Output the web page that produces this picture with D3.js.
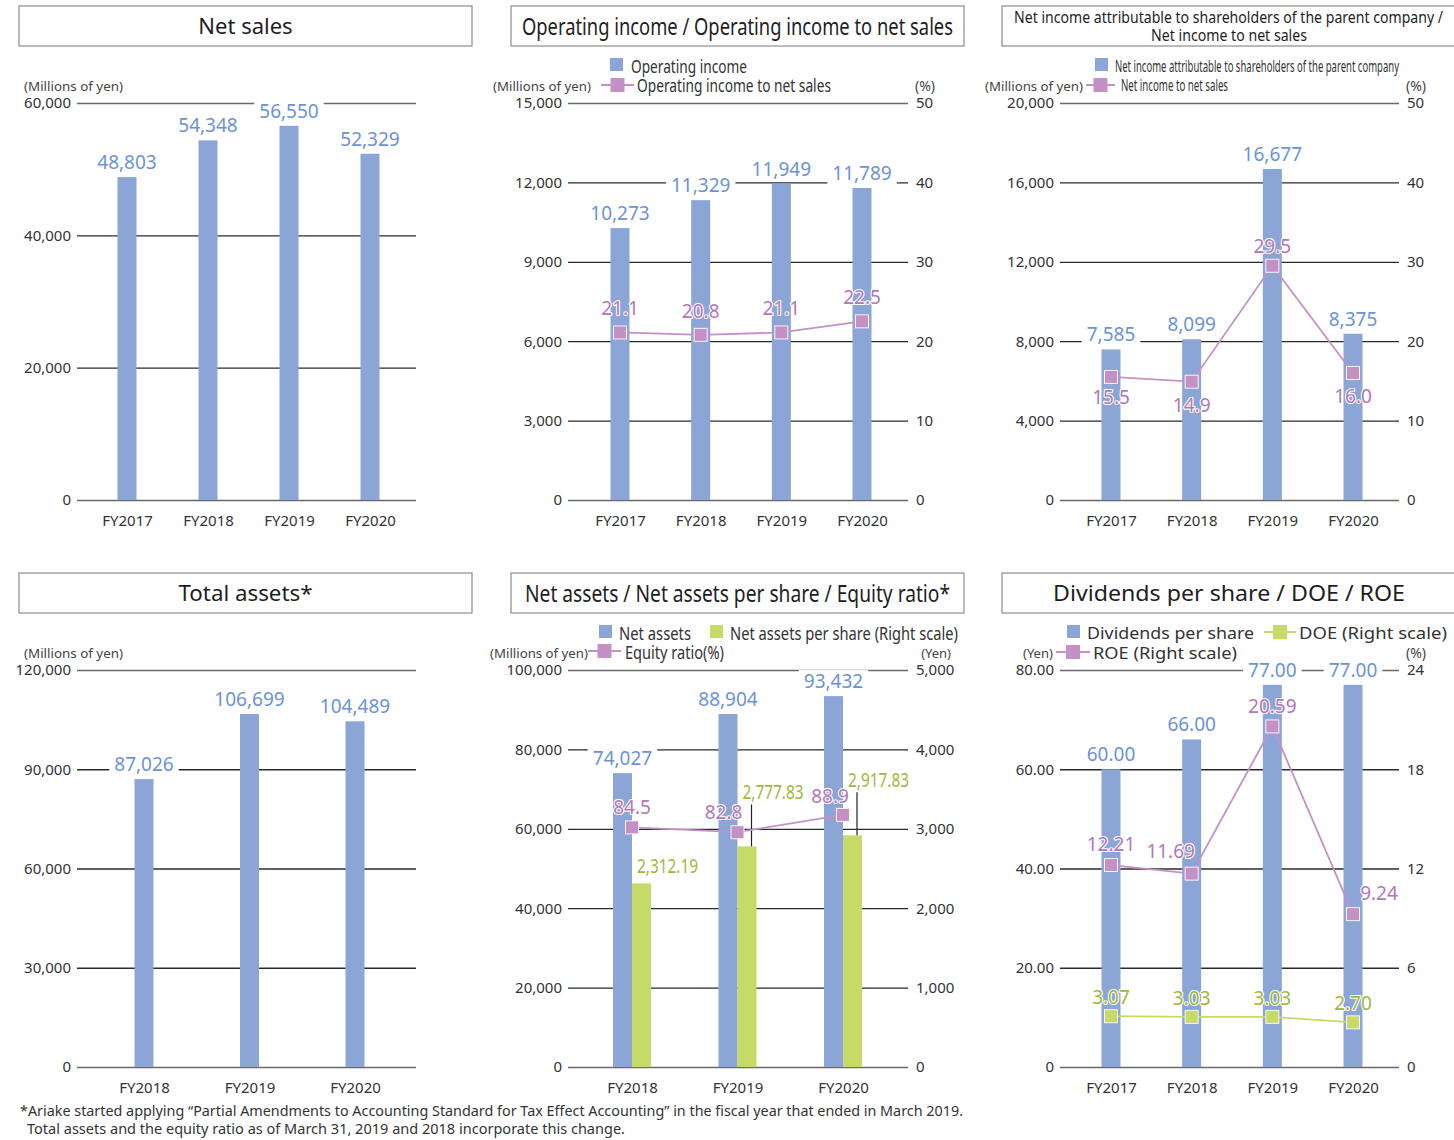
<!DOCTYPE html>
<html lang="en">
<head>
<meta charset="utf-8">
<title>Financial highlights</title>
<script src="https://d3js.org/d3.v7.min.js"></script>
<style>
  body { margin: 0; background: #fff; }
  svg text { font-family: "Noto Sans", "Open Sans", sans-serif; }
</style>
</head>
<body>
<script>
// ---- data ----
var years4 = ["FY2017", "FY2018", "FY2019", "FY2020"];
var years3 = ["FY2018", "FY2019", "FY2020"];

var netSales = [48803, 54348, 56550, 52329];

var opIncome = [10273, 11329, 11949, 11789];
var opMargin = [21.1, 20.8, 21.1, 22.5];

var netIncome = [7585, 8099, 16677, 8375];
var netMargin = [15.5, 14.9, 29.5, 16.0];

var totalAssets = [87026, 106699, 104489];

var netAssets = [74027, 88904, 93432];
var netAssetsPerShare = [2312.19, 2777.83, 2917.83];
var equityRatio = [84.5, 82.8, 88.9];

var dividends = [60, 66, 77, 77];
var doe = [3.07, 3.03, 3.03, 2.70];
var roe = [12.21, 11.69, 20.59, 9.24];

var footnote = [
  "*Ariake started applying \u201CPartial Amendments to Accounting Standard for Tax Effect Accounting\u201D in the fiscal year that ended in March 2019.",
  "Total assets and the equity ratio as of March 31, 2019 and 2018 incorporate this change."
];

// ---- look ----
var C = {
  bar: "#8aa5d6", blueText: "#6d93d4",
  pink: "#c491c6", pinkText: "#b377b7",
  green: "#c6da68", greenText: "#9cb93a",
  text: "#333"
};
var FONT = '"Noto Sans", "Open Sans", sans-serif';
var CFONT = '"Noto Sans CJK JP", "Noto Sans", sans-serif';
var BW = 19;

var svg = d3.select("body").append("svg")
  .attr("width", 1454).attr("height", 1140);

// ---- helpers ----
function titleBox(x, y, w, h, lines) {
  svg.append("rect").attr("x", x).attr("y", y).attr("width", w).attr("height", h)
    .attr("fill", "none").attr("stroke", "#8c8c8c").attr("stroke-width", 1.2);
  lines.forEach(function(l) {
    var t = svg.append("text").attr("x", l.cx).attr("y", l.y)
      .attr("text-anchor", "middle").attr("font-size", l.size)
      .attr("fill", "#1e1e1e").text(l.text);
    if (l.font) t.attr("font-family", l.font);
    if (l.len) t.attr("textLength", l.len).attr("lengthAdjust", "spacingAndGlyphs");
  });
}

function txt(x, y, s, o) {
  o = o || {};
  var t = svg.append("text").attr("x", x).attr("y", y)
    .attr("font-size", o.size || 13).attr("fill", o.color || "#444")
    .attr("text-anchor", o.anchor || "start").text(s);
  if (o.font) t.attr("font-family", o.font);
  if (o.len) t.attr("textLength", o.len).attr("lengthAdjust", "spacingAndGlyphs");
  return t;
}

function swatch(x, y, color) {
  svg.append("rect").attr("x", x).attr("y", y).attr("width", 13).attr("height", 13).attr("fill", color);
}

function lineKey(x1, x2, y, color) {
  svg.append("line").attr("x1", x1).attr("x2", x2).attr("y1", y).attr("y2", y)
    .attr("stroke", color).attr("stroke-width", 2);
  svg.append("rect").attr("x", (x1 + x2) / 2 - 7).attr("y", y - 7)
    .attr("width", 14).attr("height", 14).attr("fill", color);
}

function makePanel(o) {
  var g = svg.append("g");
  var x = d3.scalePoint().domain(o.cats).range(o.catRange);
  var yL = d3.scaleLinear().domain([0, o.leftMax]).range([o.yBot, o.yTop]);
  var ticks = d3.range(0, o.leftMax + 1e-9, o.leftStep);

  var ax = g.append("g").attr("transform", "translate(" + o.x0 + ",0)")
    .call(d3.axisLeft(yL).tickValues(ticks).tickSize(-(o.x1 - o.x0)).tickPadding(6)
      .tickFormat(o.leftFmt || d3.format(",")));
  ax.select(".domain").remove();
  ax.attr("font-family", FONT).attr("font-size", 15);
  ax.selectAll(".tick line")
    .attr("stroke", function(d, i) { return (i === 0 || i === ticks.length - 1) ? "#6a6a6a" : "#2a2a2a"; })
    .attr("stroke-width", 1.3);
  ax.selectAll(".tick text").attr("fill", C.text);

  var yR = null;
  if (o.rightMax) {
    yR = d3.scaleLinear().domain([0, o.rightMax]).range([o.yBot, o.yTop]);
    var ar = g.append("g").attr("transform", "translate(" + o.x1 + ",0)")
      .call(d3.axisRight(yR).tickValues(d3.range(0, o.rightMax + 1e-9, o.rightStep))
        .tickSize(0).tickPadding(8).tickFormat(o.rightFmt || d3.format(",")));
    ar.select(".domain").remove();
    ar.attr("font-family", FONT).attr("font-size", 15);
    ar.selectAll(".tick text").attr("fill", C.text);
  }

  var ab = g.append("g").attr("transform", "translate(0," + o.yBot + ")")
    .call(d3.axisBottom(x).tickSize(0).tickPadding(15));
  ab.select(".domain").remove();
  ab.attr("font-family", FONT).attr("font-size", 15);
  ab.selectAll(".tick text").attr("fill", C.text);

  return { g: g, x: x, yL: yL, yR: yR, o: o };
}

function bars(p, vals, y, shift, color) {
  p.g.append("g").selectAll("rect").data(vals).join("rect")
    .attr("x", function(d, i) { return p.x(p.o.cats[i]) + shift - BW / 2; })
    .attr("y", function(d) { return y(d); })
    .attr("width", BW)
    .attr("height", function(d) { return y(0) - y(d); })
    .attr("fill", color);
}

// value labels above bars, with a white gap behind them so the grid breaks
function barLabels(p, vals, y, shift, fmt) {
  var bg = p.g.append("g");
  var tg = p.g.append("g");
  tg.selectAll("text").data(vals).join("text")
    .attr("x", function(d, i) { return p.x(p.o.cats[i]) + shift; })
    .attr("y", function(d) { return y(d) - 8; })
    .attr("text-anchor", "middle").attr("font-size", 19)
    .attr("fill", C.blueText).text(fmt)
    .each(function() {
      var b = this.getBBox();
      bg.append("rect").attr("x", b.x - 5).attr("y", b.y + 2)
        .attr("width", b.width + 10).attr("height", b.height - 4).attr("fill", "#fff");
    });
}

function series(p, vals, y, color) {
  var line = d3.line()
    .x(function(d, i) { return p.x(p.o.cats[i]); })
    .y(function(d) { return y(d); });
  p.g.append("path").datum(vals).attr("d", line)
    .attr("fill", "none").attr("stroke", color).attr("stroke-width", 1.8);
  p.g.append("g").selectAll("rect").data(vals).join("rect")
    .attr("x", function(d, i) { return p.x(p.o.cats[i]) - 6.5; })
    .attr("y", function(d) { return y(d) - 6.5; })
    .attr("width", 13).attr("height", 13)
    .attr("fill", color).attr("stroke", "#fbf2fb").attr("stroke-width", 1);
}

function pointLabels(p, vals, y, fmt, color, dx, dy, size) {
  p.g.append("g").selectAll("text").data(vals).join("text")
    .attr("x", function(d, i) { return p.x(p.o.cats[i]) + dx[i]; })
    .attr("y", function(d, i) { return y(d) + dy[i]; })
    .attr("text-anchor", "middle").attr("font-size", size || 19)
    .attr("fill", color)
    .attr("stroke", "#fff").attr("stroke-width", 2.2).attr("paint-order", "stroke")
    .attr("stroke-linejoin", "round")
    .text(fmt);
}

var f0 = d3.format(",");
var f1 = d3.format(".1f");
var f2 = d3.format(".2f");
var f2c = d3.format(",.2f");

// ---- Panel 1: Net sales ----
titleBox(19, 6, 453, 40, [{ text: "Net sales", cx: 245.5, y: 34, size: 22 }]);
txt(24, 91, "(Millions of yen)", { len: 99 });
var p1 = makePanel({ cats: years4, catRange: [127, 370], x0: 77, x1: 416, yTop: 103, yBot: 500,
  leftMax: 60000, leftStep: 20000 });
bars(p1, netSales, p1.yL, 0, C.bar);
barLabels(p1, netSales, p1.yL, 0, f0);

// ---- Panel 2: Operating income ----
titleBox(511, 6, 453, 40, [{ text: "Operating income / Operating income to net sales",
  cx: 737.5, y: 35, size: 24, len: 431, font: CFONT }]);
txt(493, 91, "(Millions of yen)", { len: 98 });
swatch(610, 58, C.bar);
txt(631, 73, "Operating income", { size: 18, len: 116, font: CFONT, color: "#333" });
lineKey(601, 634, 85, C.pink);
txt(637, 92, "Operating income to net sales", { size: 18, len: 194, font: CFONT, color: "#333" });
txt(935, 91, "(%)", { anchor: "end", size: 14 });
var p2 = makePanel({ cats: years4, catRange: [620, 862], x0: 568, x1: 908, yTop: 103, yBot: 500,
  leftMax: 15000, leftStep: 3000, rightMax: 50, rightStep: 10 });
bars(p2, opIncome, p2.yL, 0, C.bar);
barLabels(p2, opIncome, p2.yL, 0, f0);
series(p2, opMargin, p2.yR, C.pink);
pointLabels(p2, opMargin, p2.yR, f1, C.pinkText, [0, 0, 0, 0], [-17, -17, -17, -17]);

// ---- Panel 3: Net income ----
titleBox(1002, 6, 460, 40, [
  { text: "Net income attributable to shareholders of the parent company /", cx: 1228.5, y: 23, size: 17, len: 429, font: CFONT },
  { text: "Net income to net sales", cx: 1229, y: 41, size: 17, len: 156, font: CFONT }
]);
txt(985, 91, "(Millions of yen)", { len: 98 });
swatch(1095, 58, C.bar);
txt(1115, 72, "Net income attributable to shareholders of the parent company", { size: 16, len: 284, font: CFONT, color: "#333" });
lineKey(1086, 1115, 85, C.pink);
txt(1121, 91, "Net income to net sales", { size: 16, len: 107, font: CFONT, color: "#333" });
txt(1426, 91, "(%)", { anchor: "end", size: 14 });
var p3 = makePanel({ cats: years4, catRange: [1111, 1353], x0: 1060, x1: 1399, yTop: 103, yBot: 500,
  leftMax: 20000, leftStep: 4000, rightMax: 50, rightStep: 10 });
bars(p3, netIncome, p3.yL, 0, C.bar);
barLabels(p3, netIncome, p3.yL, 0, f0);
series(p3, netMargin, p3.yR, C.pink);
pointLabels(p3, netMargin, p3.yR, f1, C.pinkText, [0, 0, 0, 0], [27, 30, -13, 30]);

// ---- Panel 4: Total assets ----
titleBox(19, 573, 453, 40, [{ text: "Total assets*", cx: 245.5, y: 601, size: 22, len: 134 }]);
txt(24, 658, "(Millions of yen)", { len: 99 });
var p4 = makePanel({ cats: years3, catRange: [144, 355], x0: 77, x1: 416, yTop: 670, yBot: 1067,
  leftMax: 120000, leftStep: 30000 });
bars(p4, totalAssets, p4.yL, 0, C.bar);
barLabels(p4, totalAssets, p4.yL, 0, f0);

// ---- Panel 5: Net assets ----
titleBox(511, 573, 453, 40, [{ text: "Net assets / Net assets per share / Equity ratio*",
  cx: 737.5, y: 602, size: 24, len: 425, font: CFONT }]);
swatch(599, 625, C.bar);
txt(619, 640, "Net assets", { size: 18, len: 72, font: CFONT, color: "#333" });
swatch(710, 625, C.green);
txt(730, 640, "Net assets per share (Right scale)", { size: 18, len: 228, font: CFONT, color: "#333" });
txt(490, 658, "(Millions of yen)", { len: 98 });
lineKey(588, 621, 651, C.pink);
txt(625, 659, "Equity ratio(%)", { size: 18, len: 99, font: CFONT, color: "#333" });
txt(951, 658, "(Yen)", { anchor: "end", size: 13 });
var p5 = makePanel({ cats: years3, catRange: [632, 843], x0: 568, x1: 908, yTop: 670, yBot: 1067,
  leftMax: 100000, leftStep: 20000, rightMax: 5000, rightStep: 1000 });
var yEquity = d3.scaleLinear().domain([0, 140]).range([1067, 670]);
bars(p5, netAssets, p5.yL, -9.5, C.bar);
bars(p5, netAssetsPerShare, p5.yR, 9.5, C.green);
barLabels(p5, netAssets, p5.yL, -9.5, f0);
// per-share labels, two of them lifted with a leader line
var napsDy = [-10, -47, -48];
var lifted = d3.range(netAssetsPerShare.length).filter(function(i) { return napsDy[i] < -20; });
p5.g.append("g").selectAll("line").data(lifted).join("line")
  .attr("x1", function(i) { return p5.x(years3[i]) + 14; })
  .attr("x2", function(i) { return p5.x(years3[i]) + 14; })
  .attr("y1", function(i) { return p5.yR(netAssetsPerShare[i]) + napsDy[i] + 5; })
  .attr("y2", function(i) { return p5.yR(netAssetsPerShare[i]); })
  .attr("stroke", "#222").attr("stroke-width", 1.2);
p5.g.append("g").selectAll("text").data(netAssetsPerShare).join("text")
  .attr("x", function(d, i) { return p5.x(years3[i]) + 5; })
  .attr("y", function(d, i) { return p5.yR(d) + napsDy[i]; })
  .attr("font-size", 19).attr("font-family", CFONT).attr("fill", C.greenText)
  .attr("textLength", 61).attr("lengthAdjust", "spacingAndGlyphs")
  .text(f2c);
series(p5, equityRatio, yEquity, C.pink);
pointLabels(p5, equityRatio, yEquity, f1, C.pinkText, [0, -14, -13], [-13, -13, -12]);

// ---- Panel 6: Dividends ----
titleBox(1002, 573, 460, 40, [{ text: "Dividends per share / DOE / ROE", cx: 1229, y: 601, size: 22, len: 352 }]);
swatch(1067, 625, C.bar);
txt(1087, 639, "Dividends per share", { size: 17, len: 167, color: "#333" });
lineKey(1264, 1296, 632, C.green);
txt(1299, 639, "DOE (Right scale)", { size: 17, len: 148, color: "#333" });
txt(1023, 658, "(Yen)", { size: 13 });
lineKey(1056, 1090, 652, C.pink);
txt(1093, 659, "ROE (Right scale)", { size: 17, len: 144, color: "#333" });
txt(1426, 658, "(%)", { anchor: "end", size: 14 });
var p6 = makePanel({ cats: years4, catRange: [1111, 1353], x0: 1060, x1: 1399, yTop: 670, yBot: 1067,
  leftMax: 80, leftStep: 20, leftFmt: function(d) { return d === 0 ? "0" : d.toFixed(2); },
  rightMax: 24, rightStep: 6, rightFmt: d3.format("d") });
bars(p6, dividends, p6.yL, 0, C.bar);
barLabels(p6, dividends, p6.yL, 0, f2);
series(p6, roe, p6.yR, C.pink);
series(p6, doe, p6.yR, C.green);
pointLabels(p6, roe, p6.yR, f2, C.pinkText, [0, -21, 0, 26], [-14, -16, -13, -14]);
pointLabels(p6, doe, p6.yR, f2, C.greenText, [0, 0, 0, 0], [-12, -12, -12, -12]);

// ---- footnote ----
txt(20, 1116, footnote[0], { size: 15, len: 943, font: CFONT, color: "#333" });
txt(27, 1134, footnote[1], { size: 15, len: 598, font: CFONT, color: "#333" });
</script>
</body>
</html>
